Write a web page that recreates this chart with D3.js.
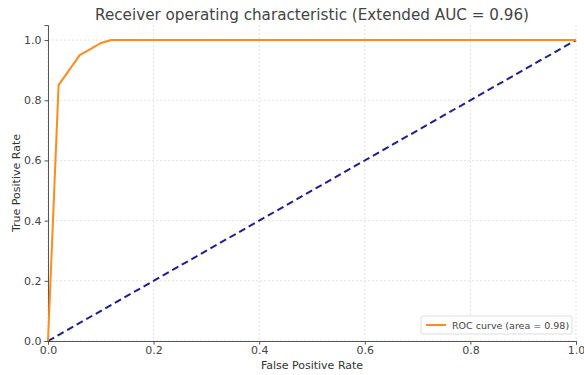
<!DOCTYPE html>
<html>
<head>
<meta charset="utf-8">
<script src="https://cdn.jsdelivr.net/npm/d3@7"></script>
<style>
  body { margin: 0; background: #fff; }
  svg text { font-family: "DejaVu Sans", sans-serif; }
</style>
</head>
<body>
<script>
// DATA
var fpr = [0, 0.02, 0.06, 0.10, 0.12, 1.0];
var tpr = [0, 0.85, 0.95, 0.99, 1.0, 1.0];
var chanceX = [0, 1];
var chanceY = [0, 1];
var ticks = [0, 0.2, 0.4, 0.6, 0.8, 1.0];
var titleText = "Receiver operating characteristic (Extended AUC = 0.96)";
var legendText = "ROC curve (area = 0.98)";

var svg = d3.select("body").append("svg")
    .attr("width", 584)
    .attr("height", 375);

const margin = {top: 25, right: 8, bottom: 34, left: 48};
const width = 584 - margin.left - margin.right;
const height = 375 - margin.top - margin.bottom;

const x = d3.scaleLinear().domain([0, 1]).range([0, width]);
const y = d3.scaleLinear().domain([0, 1.05]).range([height, 0]);

const g = svg.append("g")
    .attr("transform", "translate(" + margin.left + "," + margin.top + ")");

// grid
g.append("g").selectAll("line").data(ticks).enter().append("line")
    .attr("x1", d => x(d)).attr("x2", d => x(d))
    .attr("y1", 0).attr("y2", height)
    .attr("stroke", "#dadada").attr("stroke-width", 0.8)
    .attr("stroke-dasharray", "2,2");
g.append("g").selectAll("line").data(ticks).enter().append("line")
    .attr("y1", d => y(d)).attr("y2", d => y(d))
    .attr("x1", 0).attr("x2", width)
    .attr("stroke", "#dadada").attr("stroke-width", 0.8)
    .attr("stroke-dasharray", "2,2");

// axes
const xAxis = g.append("g")
    .attr("transform", "translate(0," + height + ")")
    .call(d3.axisBottom(x).tickValues(ticks).tickFormat(d3.format(".1f")).tickSize(3.5).tickPadding(2));
const yAxis = g.append("g")
    .call(d3.axisLeft(y).tickValues(ticks).tickFormat(d3.format(".1f")).tickSize(3.5).tickPadding(3));
[xAxis, yAxis].forEach(a => {
    a.select(".domain").attr("stroke", "#555").attr("stroke-width", 1);
    a.selectAll(".tick line").attr("stroke", "#555");
    a.selectAll(".tick text").attr("fill", "#444").style("font-size", "11px");
});

// chance line
const line = d3.line().x(d => x(d[0])).y(d => y(d[1]));
g.append("path")
    .datum(chanceX.map((v, i) => [v, chanceY[i]]))
    .attr("d", line)
    .attr("fill", "none")
    .attr("stroke", "#1f1f8f")
    .attr("stroke-width", 2)
    .attr("stroke-dasharray", "7,4");

// roc curve
g.append("path")
    .datum(fpr.map((v, i) => [v, tpr[i]]))
    .attr("d", line)
    .attr("fill", "none")
    .attr("stroke", "#ff8c1a")
    .attr("stroke-width", 2)
    .attr("stroke-linejoin", "round");

// title and labels
svg.append("text")
    .attr("x", margin.left + width / 2).attr("y", 20)
    .attr("text-anchor", "middle")
    .attr("fill", "#444")
    .style("font-size", "15.2px")
    .text(titleText);
svg.append("text")
    .attr("x", margin.left + width / 2).attr("y", 369)
    .attr("text-anchor", "middle")
    .attr("fill", "#333")
    .style("font-size", "11px")
    .text("False Positive Rate");
svg.append("text")
    .attr("transform", "translate(20," + (margin.top + height / 2) + ") rotate(-90)")
    .attr("text-anchor", "middle")
    .attr("fill", "#333")
    .style("font-size", "11px")
    .text("True Positive Rate");

// legend
const lg = g.append("g").attr("transform", "translate(" + (width - 155) + "," + (height - 25) + ")");
lg.append("rect")
    .attr("width", 151).attr("height", 18).attr("rx", 2)
    .attr("fill", "#fff").attr("fill-opacity", 0.85)
    .attr("stroke", "#ddd");
lg.append("line")
    .attr("x1", 5).attr("x2", 25).attr("y1", 9).attr("y2", 9)
    .attr("stroke", "#ff8c1a").attr("stroke-width", 2);
lg.append("text")
    .attr("x", 31).attr("y", 12.5)
    .attr("fill", "#444")
    .style("font-size", "9.5px")
    .text(legendText);
</script>
</body>
</html>
